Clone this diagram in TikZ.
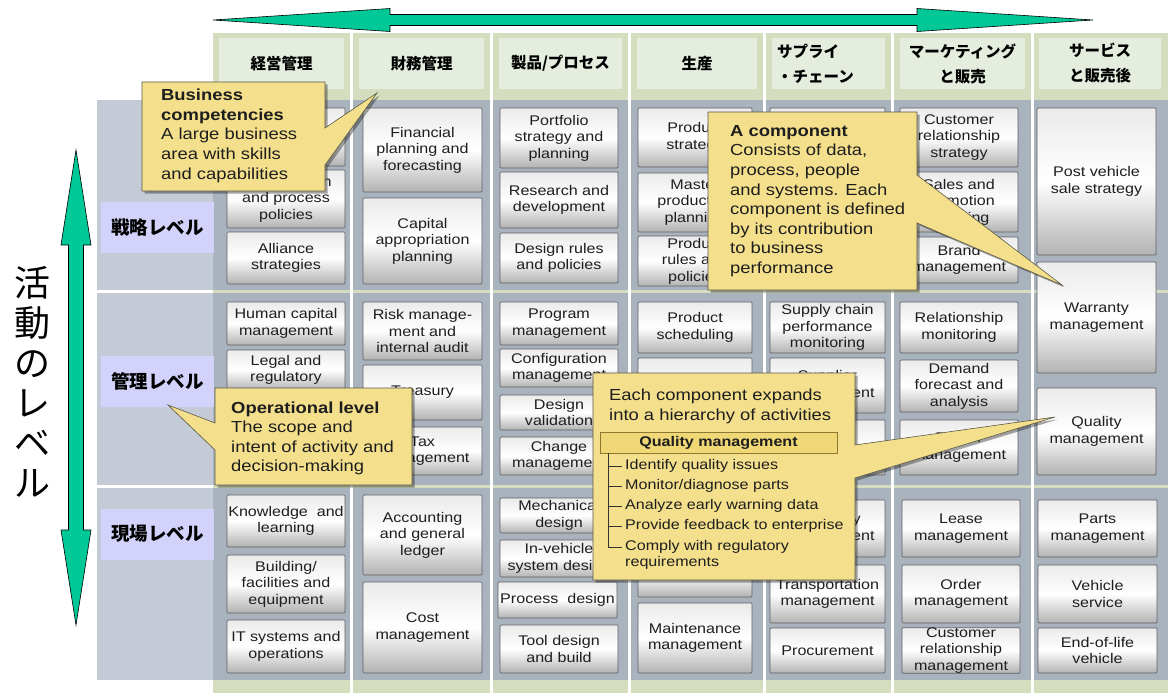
\documentclass[tikz,border=0pt]{standalone}
\usepackage{fontspec}
\setmainfont{Liberation Sans}[FakeStretch=1.15]
\newfontfamily\jp{Noto Sans CJK JP}
\usetikzlibrary{shadows}
\definecolor{agreen}{RGB}{0,200,150}
\definecolor{strip}{RGB}{212,222,191}
\definecolor{hdr}{RGB}{228,237,222}
\definecolor{panel}{RGB}{168,179,190}
\definecolor{lpanel}{RGB}{196,202,214}
\definecolor{lvl}{RGB}{210,210,250}
\definecolor{call}{RGB}{244,224,140}
\definecolor{callb}{RGB}{90,88,70}
\definecolor{qfill}{RGB}{240,216,118}
\definecolor{qdraw}{RGB}{140,120,50}
\definecolor{boxb}{RGB}{95,95,100}
\definecolor{txt}{RGB}{30,30,30}
\tikzset{
  cbox/.style={draw=boxb, line width=0.7pt, rounded corners=1pt, top color=black!8, bottom color=black!30, middle color=white, inner sep=0pt, align=center, font=\fontsize{14}{16.5}\selectfont, text=txt},
  hdrbox/.style={fill=hdr, inner sep=0pt, align=center, font=\jp\bfseries\fontsize{15.5}{25}\selectfont},
  lvlbox/.style={fill=lvl, inner sep=0pt, minimum width=113, minimum height=51, font=\jp\bfseries\fontsize{18.5}{22}\selectfont},
  callout/.style={fill=call, draw=callb, line width=0.6pt, drop shadow={shadow xshift=2.5pt, shadow yshift=-2.5pt, fill=black, opacity=0.35}},
  calltext/.style={anchor=north west, inner sep=0pt, align=left, text=txt, font=\fontsize{16}{19.6}\selectfont},
  treeitem/.style={anchor=west, inner xsep=3pt, inner ysep=0pt, text=txt, font=\fontsize{14}{16.5}\selectfont},
  treeline/.style={draw=black!80, line width=0.8pt},
  bigarrow/.style={fill=agreen, draw=black, line width=0.6pt}
}
\newcommand\cbx[6]{\node[cbox, minimum width={#4-#2}, minimum height={#5-#3}] (#1) at ({(#2+#4)/2},{(#3+#5)/2}) {#6};}
\begin{document}
\begin{tikzpicture}[x=1pt,y=-1pt]
\useasboundingbox (0,0) rectangle (1168,693);
\fill[white] (0,0) rectangle (1168,693);

% column strips and row panels
\foreach \l/\r in {213/350,353/490,493/628,631/763,766/891,894/1031,1034/1168}{
  \fill[strip] (\l,33) rectangle (\r,693);
  \fill[panel] (\l,100) rectangle (\r,290);
  \fill[panel] (\l,293) rectangle (\r,485);
  \fill[panel] (\l,488) rectangle (\r,680);
}
% left level column
\fill[lpanel] (97,100) rectangle (213,290);
\fill[lpanel] (97,293) rectangle (213,485);
\fill[lpanel] (97,488) rectangle (213,680);

% headers
\node[hdrbox, minimum width=125, minimum height=51] (h1) at (281.5,63.5) {経営管理};
\node[hdrbox, minimum width=125, minimum height=51] (h2) at (421.5,63.5) {財務管理};
\node[hdrbox, minimum width=123, minimum height=51] (h3) at (560.5,63.5) {製品/プロセス};
\node[hdrbox, minimum width=120, minimum height=51] (h4) at (697,63.5) {生産};
\node[hdrbox, minimum width=113, minimum height=51] (h5) at (828.5,63.5) {};
\node[anchor=west, inner sep=0pt, align=left, font=\jp\bfseries\fontsize{15.5}{25}\selectfont] (h5t) at (777,64) {サプライ\\・チェーン};
\node[hdrbox, minimum width=125, minimum height=51] (h6) at (962.5,63.5) {マーケティング\\と販売};
\node[hdrbox, minimum width=122, minimum height=51] (h7) at (1100,63.5) {サービス\\と販売後};

% level labels
\node[lvlbox] (l1) at (157.5,227.5) {戦略レベル};
\node[lvlbox] (l2) at (157.5,381) {管理レベル};
\node[lvlbox] (l3) at (157.5,534) {現場レベル};

% column 1
\cbx{c1a}{227}{108}{345}{166}{}
\cbx{c1b}{227}{170}{345}{228}{Organization\\and process\\policies}
\cbx{c1c}{227}{232}{345}{284}{Alliance\\strategies}
\cbx{c1d}{227}{302}{345}{345}{Human capital\\management}
\cbx{c1e}{227}{350}{345}{390}{Legal and\\regulatory}
\cbx{c1h}{227}{495}{345}{547}{Knowledge~~and\\learning}
\cbx{c1i}{227}{555}{345}{613}{Building/\\facilities and\\equipment}
\cbx{c1j}{227}{620}{345}{673}{IT systems and\\operations}
% column 2
\cbx{c2a}{363}{108}{482}{192}{Financial\\planning and\\forecasting}
\cbx{c2b}{363}{198}{482}{284}{Capital\\appropriation\\planning}
\cbx{c2c}{363}{302}{482}{360}{Risk manage-\\ment and\\internal audit}
\cbx{c2d}{363}{365}{482}{420}{Treasury}
\cbx{c2e}{363}{427}{482}{475}{Tax\\management}
\cbx{c2f}{363}{495}{482}{575}{Accounting\\and general\\ledger}
\cbx{c2g}{363}{582}{482}{673}{Cost\\management}
% column 3
\cbx{c3a}{500}{108}{618}{168}{Portfolio\\strategy and\\planning}
\cbx{c3b}{500}{172}{618}{228}{Research and\\development}
\cbx{c3c}{500}{233}{618}{283}{Design rules\\and policies}
\cbx{c3d}{500}{302}{618}{345}{Program\\management}
\cbx{c3e}{500}{349}{618}{387}{Configuration\\management}
\cbx{c3f}{500}{395}{618}{430}{Design\\validation}
\cbx{c3g}{500}{437}{618}{475}{Change\\management}
\cbx{c3h}{500}{498}{618}{533}{Mechanical\\design}
\cbx{c3i}{500}{540}{618}{577}{In-vehicle\\system design}
\cbx{c3j}{498}{582}{617}{618}{Process~~design}
\cbx{c3k}{500}{625}{618}{673}{Tool design\\and build}
% column 4
\cbx{c4a}{638}{108}{752}{167}{Product\\strategy}
\cbx{c4b}{638}{173}{752}{232}{Master\\production\\planning}
\cbx{c4c}{638}{236}{752}{286}{Product\\rules and\\policies}
\cbx{c4d}{638}{302}{752}{353}{Product\\scheduling}
\cbx{c4e}{638}{358}{752}{420}{}
\cbx{c4f}{638}{425}{752}{475}{}
\cbx{c4g}{638}{495}{752}{545}{}
\cbx{c4h}{638}{550}{752}{597}{}
\cbx{c4i}{638}{603}{752}{673}{Maintenance\\management}
% column 5
\cbx{c5a}{770}{108}{885}{167}{}
\cbx{c5b}{770}{173}{885}{232}{}
\cbx{c5c}{770}{237}{885}{283}{}
\cbx{c5d}{770}{302}{885}{353}{Supply chain\\performance\\monitoring}
\cbx{c5e}{770}{358}{885}{413}{Supplier\\management}
\cbx{c5f}{770}{420}{885}{475}{}
\cbx{c5g}{770}{500}{885}{557}{Inventory\\management}
\cbx{c5h}{770}{565}{885}{623}{Transportation\\management}
\cbx{c5i}{770}{628}{885}{673}{Procurement}
% column 6
\cbx{c6a}{900}{108}{1018}{167}{Customer\\relationship\\strategy}
\cbx{c6b}{900}{172}{1018}{232}{Sales and\\promotion\\planning}
\cbx{c6c}{900}{237}{1018}{283}{Brand\\management}
\cbx{c6d}{900}{302}{1018}{353}{Relationship\\monitoring}
\cbx{c6e}{900}{360}{1018}{412}{Demand\\forecast and\\analysis}
\cbx{c6f}{900}{420}{1018}{475}{Dealer\\management}
\cbx{c6g}{902}{500}{1020}{557}{Lease\\management}
\cbx{c6h}{902}{565}{1020}{623}{Order\\management}
\cbx{c6i}{902}{628}{1020}{673}{Customer\\relationship\\management}
% column 7
\cbx{c7a}{1037}{108}{1156}{255}{Post vehicle\\sale strategy}
\cbx{c7b}{1037}{262}{1156}{373}{Warranty\\management}
\cbx{c7c}{1037}{388}{1156}{475}{Quality\\management}
\cbx{c7d}{1038}{500}{1157}{557}{Parts\\management}
\cbx{c7e}{1038}{565}{1157}{623}{Vehicle\\service}
\cbx{c7f}{1038}{628}{1157}{673}{End-of-life\\vehicle}

% big arrows
\draw[bigarrow] (213,20) -- (390,8.5) -- (390,14.5) -- (917,14.5) -- (917,8.5) -- (1093,20)
  -- (917,31.5) -- (917,25.5) -- (390,25.5) -- (390,31.5) -- cycle;
\draw[bigarrow] (76,150) -- (91,245) -- (83.5,245) -- (83.5,530) -- (91,530) -- (76,625)
  -- (61,530) -- (68.5,530) -- (68.5,245) -- (61,245) -- cycle;
\node[inner sep=0pt, align=center, font=\jp\fontsize{36}{40}\selectfont] (vt) at (33,382) {活\\動\\の\\レ\\ベ\\ル};

% callout 1
\draw[callout] (142,82) -- (325,82) -- (325,128) -- (377,93) -- (325,165) -- (325,191) -- (142,191) -- cycle;
\node[calltext] (t1) at (161,89) {\textbf{Business}\\\textbf{competencies}\\A large business\\area with skills\\and capabilities};
% callout 2
\draw[callout] (708,112) -- (917,112) -- (917,175) -- (1062,285) -- (917,223) -- (917,290) -- (708,290) -- cycle;
\node[calltext] (t2) at (730,125) {\textbf{A component}\\Consists of data,\\process, people\\and systems. Each\\component is defined\\by its contribution\\to business\\performance};
% callout 3
\draw[callout] (215,388) -- (412,388) -- (412,485) -- (215,485) -- (215,450) -- (168,405) -- (215,423) -- cycle;
\node[calltext, font=\fontsize{16}{19.2}\selectfont] (t3) at (231,402) {\textbf{Operational level}\\The scope and\\intent of activity and\\decision-making};
% callout 4
\draw[callout] (593,373) -- (855,373) -- (855,445) -- (1055,417) -- (855,478) -- (855,580) -- (593,580) -- cycle;
\node[calltext] (t4) at (609,389) {Each component expands\\into a hierarchy of activities};
\node[fill=qfill, draw=qdraw, line width=0.8pt, minimum width=237, minimum height=21, inner sep=0pt, font=\bfseries\fontsize{14}{16}\selectfont, text=txt] (q) at (718.5,442.5) {Quality management};
\node[treeitem] (i1) at (622,466) {Identify quality issues};
\node[treeitem] (i2) at (622,486) {Monitor/diagnose parts};
\node[treeitem] (i3) at (622,506) {Analyze early warning data};
\node[treeitem] (i4) at (622,526) {Provide feedback to enterprise};
\node[treeitem] (i5) at (622,547) {Comply with regulatory};
\node[treeitem] (i6) at (622,563) {requirements};
\coordinate (tv) at (608,453);
\draw[treeline] (tv) |- (i5.west);
\foreach \n in {i1,i2,i3,i4}{\draw[treeline] (tv |- \n.west) -- (\n.west);}
\end{tikzpicture}
\end{document}
